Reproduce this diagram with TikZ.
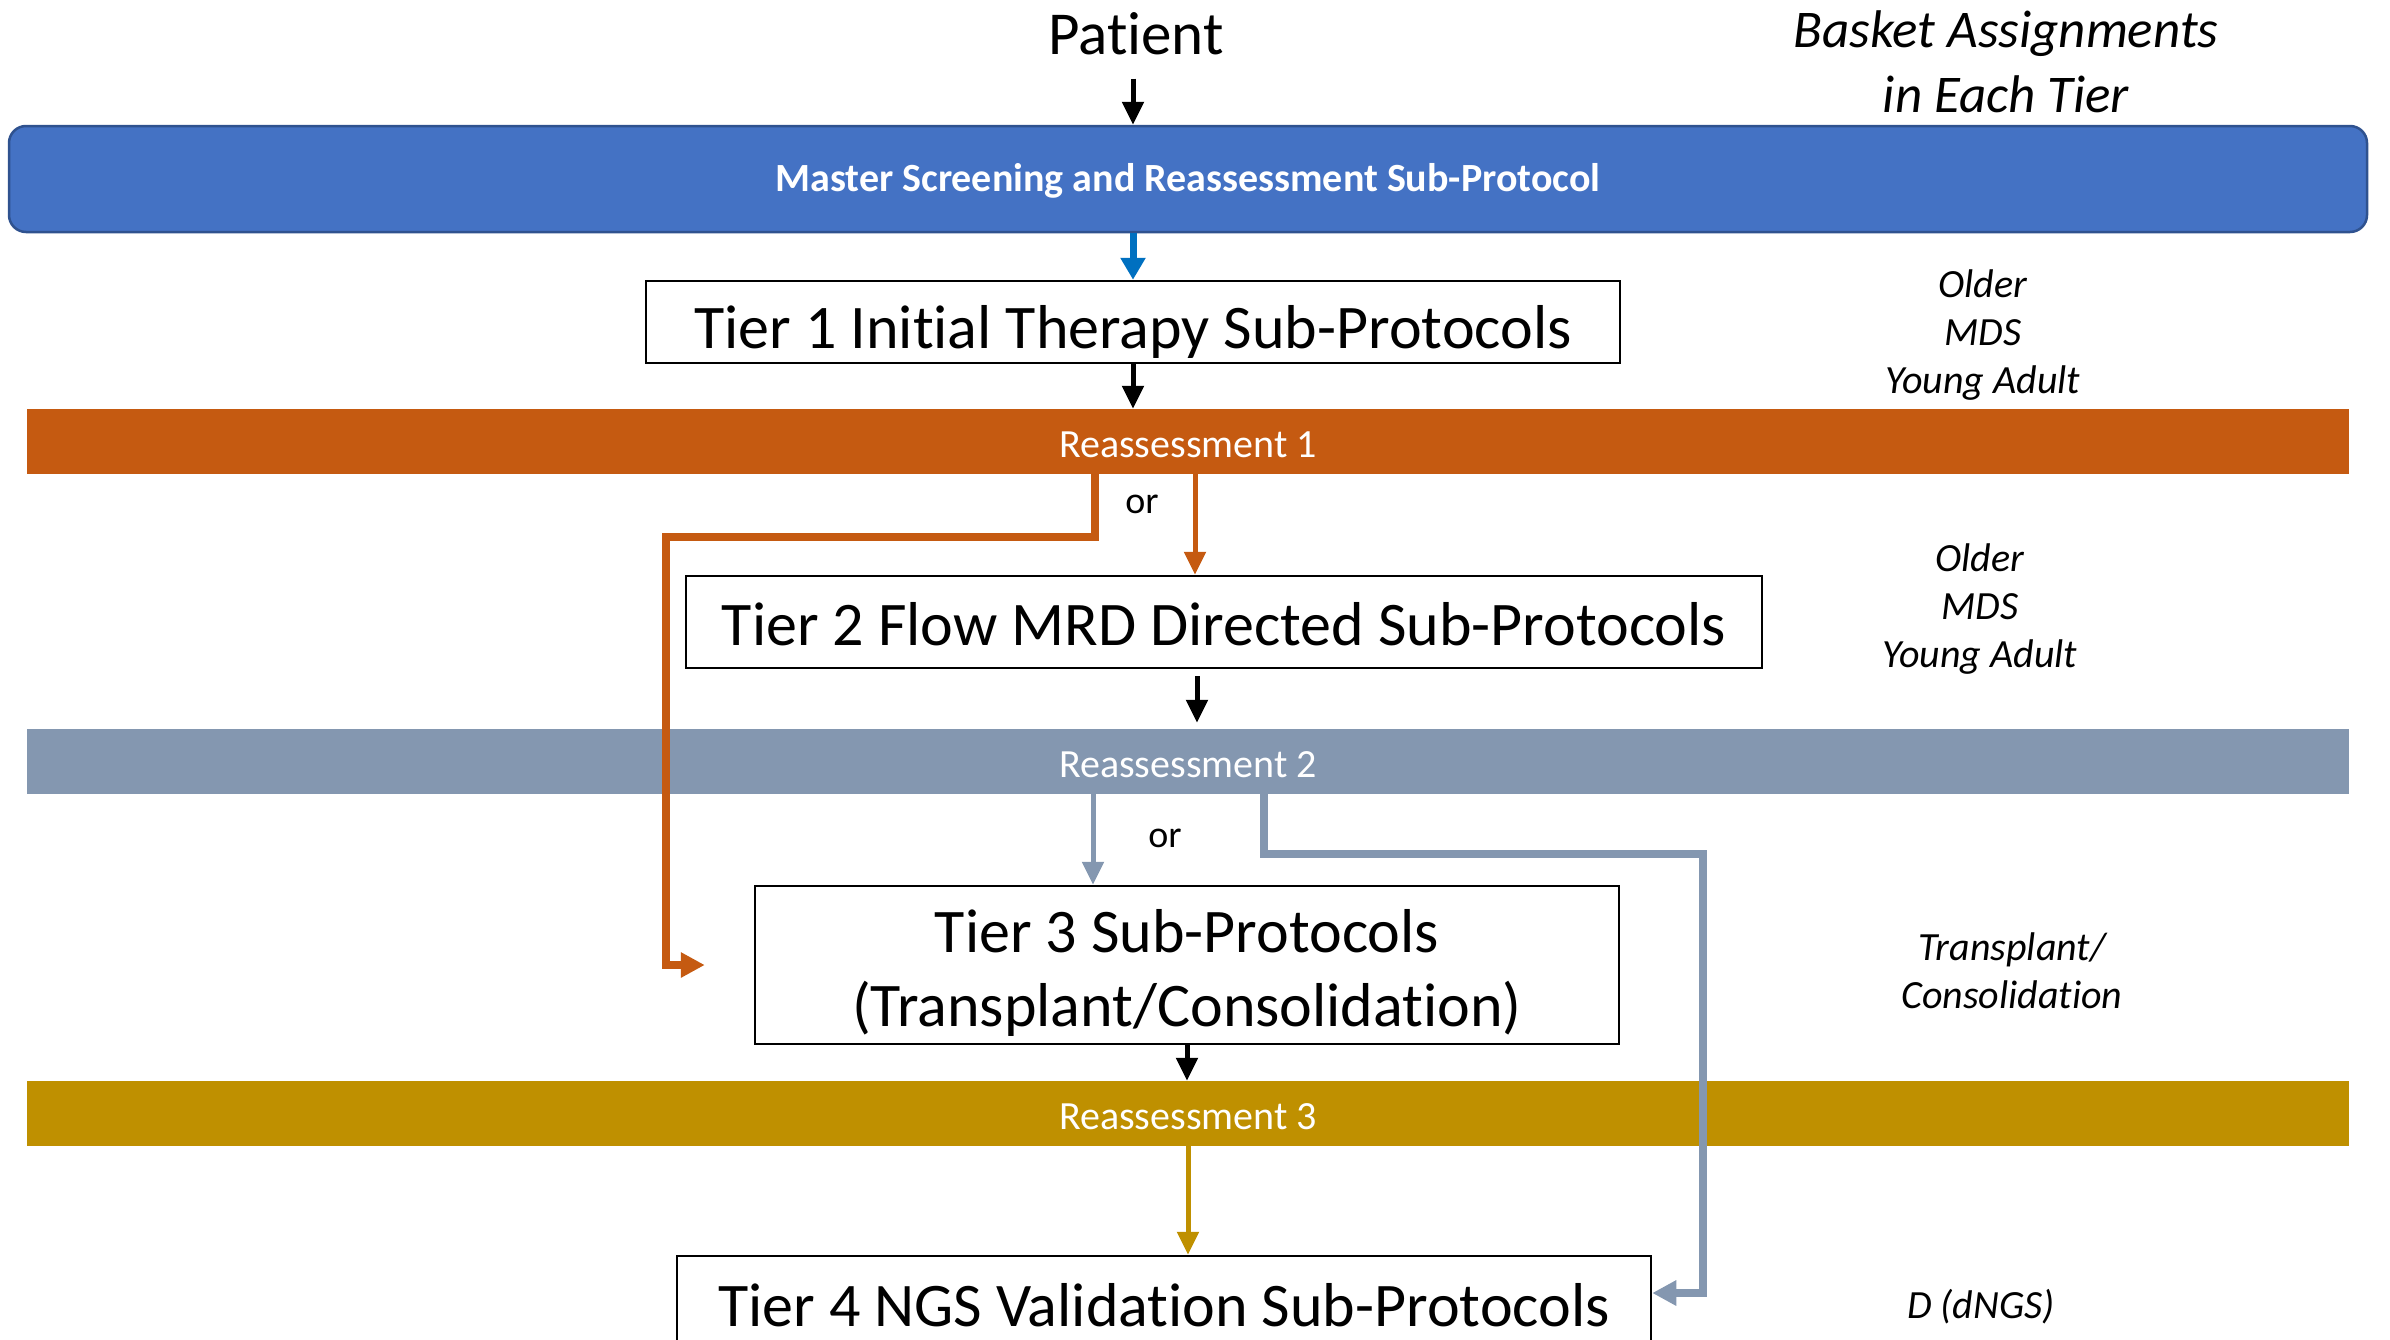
\documentclass[tikz,border=0pt]{standalone}
\usepackage{fontspec}
\setmainfont{Carlito}[Ligatures=NoCommon]
\usetikzlibrary{arrows.meta}
\definecolor{masterblue}{HTML}{4472C4}
\definecolor{masteredge}{HTML}{2F528F}
\definecolor{arrowblue}{HTML}{0070C0}
\definecolor{rustorange}{HTML}{C55A11}
\definecolor{slategray}{HTML}{8497B0}
\definecolor{darkgold}{HTML}{BF9000}

\begin{document}
\begin{tikzpicture}[x=1pt,y=-1pt,
  tierbox/.style={draw=black,line width=2.5pt,fill=white,inner sep=0pt},
  tiertext/.style={font=\fontsize{62}{74}\selectfont,align=center,inner sep=0pt},
  bar/.style={minimum width=2322pt,minimum height=65pt,inner sep=0pt,
    text=white,font=\fontsize{40}{46}\selectfont,text height=32pt,text depth=0pt},
  flow/.style={line width=5pt,-{Triangle[width=21pt,length=23pt]}},
  elbow/.style={line width=8pt,-{Triangle[width=24pt,length=24pt]}},
  side/.style={font=\fontsize{40}{48}\itshape\selectfont,align=center},
  ortext/.style={font=\fontsize{38}{44}\selectfont}
]
\useasboundingbox (0,0) rectangle (2390,1339);

% headings
\node (patient) at (1136,34) {\fontsize{61}{70}\selectfont Patient};
\node[font=\fontsize{53}{65}\itshape\selectfont,align=center] (basket) at (2006,62)
  {Basket Assignments\\in Each Tier};

% master protocol band
\node[draw=masteredge,line width=2.5pt,fill=masterblue,rounded corners=17pt,
  minimum width=2358pt,minimum height=106pt,inner sep=0pt,text=white,
  text height=30pt,text depth=6pt,
  font=\fontsize{40}{46}\bfseries\selectfont] (master) at (1188,179)
  {Master Screening and Reassessment Sub-Protocol};

% tiers
\node[tierbox,tiertext,minimum width=974pt,minimum height=82pt,
  text height=66pt,text depth=14pt] (t1) at (1133,322)
  {Tier 1 Initial Therapy Sub-Protocols};
\node[tierbox,tiertext,minimum width=1076pt,minimum height=92pt,
  text height=60pt,text depth=14pt] (t2) at (1224,622)
  {Tier 2 Flow MRD Directed Sub-Protocols};
\node[tierbox,minimum width=864pt,minimum height=158pt] (t3) at (1187,965) {};
\node[tiertext] (t3text) at ([yshift=-8pt]t3.center)
  {Tier 3 Sub-Protocols\\(Transplant/Consolidation)};
\node[tierbox,tiertext,minimum width=974pt,minimum height=98pt] (t4) at (1164,1305)
  {Tier 4 NGS Validation Sub-Protocols};

% reassessment bands
\node[bar,fill=rustorange] (r1) at (1188,441.5) {Reassessment 1};
\node[bar,fill=slategray] (r2) at (1188,761.5) {Reassessment 2};
\node[bar,fill=darkgold] (r3) at (1188,1113.5) {Reassessment 3};

% basket assignments per tier
\node[side] (b1) at (1983,335) {Older\\MDS\\Young Adult};
\node[side] (b2) at (1980,609) {Older\\MDS\\Young Adult};
\node[side] (b3) at (2012,971) {Transplant/\\Consolidation};
\node[side] (b4) at (1981,1307) {D (dNGS)};

% "or" labels
\node[ortext] (or1) at (1142,504) {or};
\node[ortext] (or2) at (1165,838) {or};

% branch positions
\coordinate (xa) at (1195,0);
\coordinate (xb) at (1095,0);
\coordinate (ob) at (666,537);
\coordinate (xc) at (1197,0);
\coordinate (xd) at (1093,0);
\coordinate (xe) at (1264,0);
\coordinate (gb) at (1703,854);

% main flow
\draw[flow] (patient.south -| t1.north) ++(0,20) -- (master.north -| t1.north);
\draw[flow,arrowblue,line width=7pt,-{Triangle[width=24pt,length=22pt]}]
  (master.south -| t1.north) -- (t1.north);
\draw[flow] (t1.south) -- (r1.north -| t1.south);
\draw[flow,rustorange] (r1.south -| xa) -- (t2.north -| xa);
\draw[elbow,rustorange] (r1.south -| xb) |- (ob) |- ([xshift=-49pt]t3.west);
\draw[flow,shorten <=7pt,shorten >=6pt] (t2.south -| xc) -- (r2.north -| xc);
\draw[flow,slategray] (r2.south -| xd) -- (t3.north -| xd);
\draw[elbow,slategray] (r2.south -| xe) |- (gb) |- ([yshift=12pt]t4.east);
\draw[flow] (t3.south) -- (r3.north -| t3.south);
\draw[flow,darkgold] (r3.south) -- (t4.north -| r3.south);
\end{tikzpicture}
\end{document}
